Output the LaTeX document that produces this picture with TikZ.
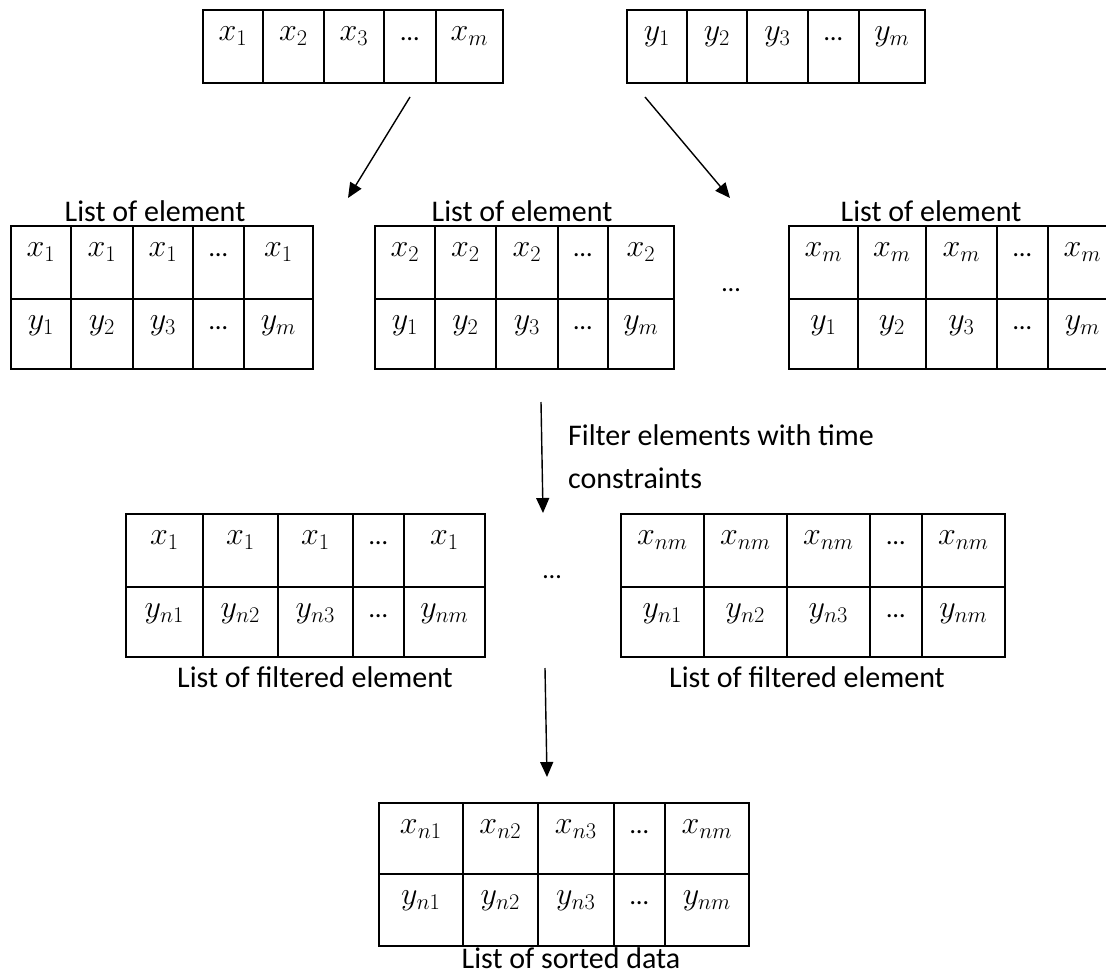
\documentclass[tikz,border=0pt]{standalone}
\usepackage{fix-cm}
\usepackage[no-math]{fontspec}
\setmainfont{Carlito}
\usetikzlibrary{arrows.meta}

\tikzset{
  cellbox/.style={draw, line width=1.6bp, inner xsep=0pt, inner ysep=0pt,
    text height=31bp, font=\fontsize{32bp}{38bp}\selectfont},
  caption/.style={anchor=base, inner sep=0pt, font=\fontsize{30bp}{36bp}\selectfont},
  flow/.style={line width=1.4bp, -{Triangle[length=15bp,width=13bp]}},
}

% small ellipsis used inside cells and between tables
\newcommand\gapdots{{\fontsize{26bp}{30bp}\selectfont …}}

% one row of cells: name, top y, bottom y, list of left/right/content
\newcommand\cellrow[4]{%
  \foreach \xa/\xb/\txt [count=\i] in {#4}{%
    \pgfmathsetmacro\cw{\xb-\xa}%
    \pgfmathsetmacro\cd{#3-#2-31}%
    \node[cellbox, minimum width=\cw bp, text depth=\cd bp, anchor=north west]
      (#1-\i) at (\xa,#2) {\txt};
  }}

\begin{document}
\begin{tikzpicture}[x=1bp,y=-1bp]
\useasboundingbox (0,0) rectangle (1106,974);
\fill[white] (0,0) rectangle (1106,974);
\clip (0,0) rectangle (1106,974);

% input arrays
\cellrow{T0}{9}{82}{202/262/{$x_1$}, 262/323/{$x_2$}, 323/383/{$x_3$}, 383/435/{\gapdots}, 435/502/{$x_m$}}
\cellrow{T1}{9}{82}{626/686/{$y_1$}, 686/746/{$y_2$}, 746/807/{$y_3$}, 807/858/{\gapdots}, 858/924/{$y_m$}}

% lists of element
\cellrow{M1a}{225}{298}{10/70/{$x_1$}, 70/132/{$x_1$}, 132/192/{$x_1$}, 192/243/{\gapdots}, 243/312/{$x_1$}}
\cellrow{M1b}{298}{368}{10/70/{$y_1$}, 70/132/{$y_2$}, 132/192/{$y_3$}, 192/243/{\gapdots}, 243/312/{$y_m$}}
\cellrow{M2a}{225}{298}{374/434/{$x_2$}, 434/495/{$x_2$}, 495/557/{$x_2$}, 557/607/{\gapdots}, 607/673/{$x_2$}}
\cellrow{M2b}{298}{368}{374/434/{$y_1$}, 434/495/{$y_2$}, 495/557/{$y_3$}, 557/607/{\gapdots}, 607/673/{$y_m$}}
\cellrow{M3a}{225}{298}{788/857/{$x_m$}, 857/925/{$x_m$}, 925/996/{$x_m$}, 996/1047/{\gapdots}, 1047/1116/{$x_m$}}
\cellrow{M3b}{298}{368}{788/857/{$y_1$}, 857/925/{$y_2$}, 925/996/{$y_3$}, 996/1047/{\gapdots}, 1047/1116/{$y_m$}}

\node[caption] (capM1) at (155,221) {List of element};
\node[caption] (capM2) at (522,221) {List of element};
\node[caption] (capM3) at (931,221) {List of element};
\node[caption] (gap1) at (731,291) {\gapdots};

% filtered lists
\cellrow{F1a}{513}{586}{125/202/{$x_1$}, 202/277/{$x_1$}, 277/352/{$x_1$}, 352/403/{\gapdots}, 403/484/{$x_1$}}
\cellrow{F1b}{586}{656}{125/202/{$y_{n1}$}, 202/277/{$y_{n2}$}, 277/352/{$y_{n3}$}, 352/403/{\gapdots}, 403/484/{$y_{nm}$}}
\cellrow{F2a}{513}{586}{620/703/{$x_{nm}$}, 703/786/{$x_{nm}$}, 786/869/{$x_{nm}$}, 869/921/{\gapdots}, 921/1004/{$x_{nm}$}}
\cellrow{F2b}{586}{656}{620/703/{$y_{n1}$}, 703/786/{$y_{n2}$}, 786/869/{$y_{n3}$}, 869/921/{\gapdots}, 921/1004/{$y_{nm}$}}

\node[caption] (capF1) at (315,687) {List of filtered element};
\node[caption] (capF2) at (807,687) {List of filtered element};
\node[caption] (gap2) at (552,578) {\gapdots};

\node[caption, anchor=base west] (filt1) at (568,445) {Filter elements with time};
\node[caption, anchor=base west] (filt2) at (568,488) {constraints};

% sorted data
\cellrow{Sa}{802}{873}{378/462/{$x_{n1}$}, 462/537/{$x_{n2}$}, 537/613/{$x_{n3}$}, 613/664/{\gapdots}, 664/748/{$x_{nm}$}}
\cellrow{Sb}{873}{945}{378/462/{$y_{n1}$}, 462/537/{$y_{n2}$}, 537/613/{$y_{n3}$}, 613/664/{\gapdots}, 664/748/{$y_{nm}$}}
\node[caption] (capS) at (571,968) {List of sorted data};

% connectors
\coordinate (a1s) at (410,97);  \coordinate (a1e) at (348,198);
\coordinate (a2s) at (645,97);  \coordinate (a2e) at (730,198);
\coordinate (a3s) at (541,402); \coordinate (a3e) at (543,513);
\coordinate (a4s) at (545,668); \coordinate (a4e) at (547,777);
\draw[flow] (a1s) -- (a1e);
\draw[flow] (a2s) -- (a2e);
\draw[flow] (a3s) -- (a3e);
\draw[flow] (a4s) -- (a4e);
\end{tikzpicture}
\end{document}
